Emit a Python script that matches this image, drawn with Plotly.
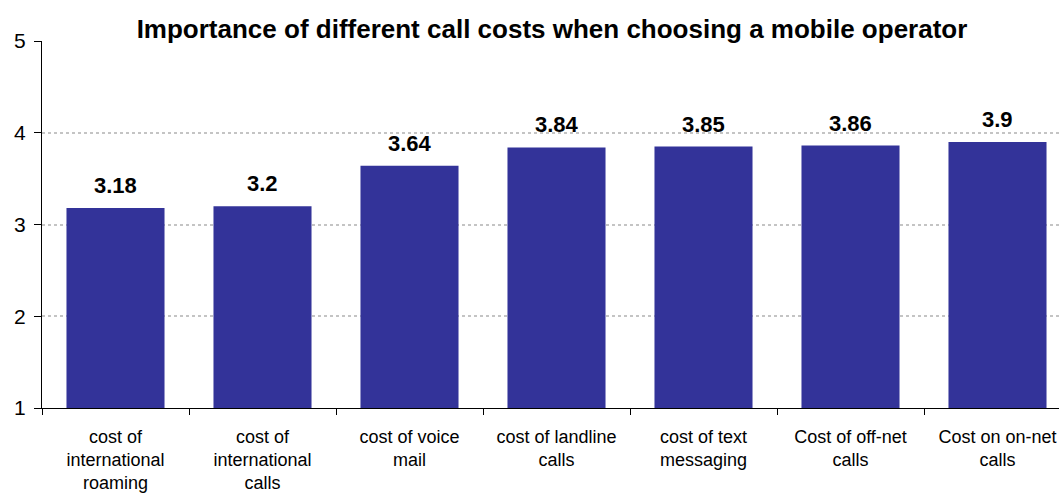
import plotly.graph_objects as go

categories = ["cost of<br>international<br>roaming", "cost of<br>international<br>calls",
              "cost of voice<br>mail", "cost of landline<br>calls", "cost of text<br>messaging",
              "Cost of off-net<br>calls", "Cost on on-net<br>calls"]
values = [3.18, 3.2, 3.64, 3.84, 3.85, 3.86, 3.9]
labels = ["3.18", "3.2", "3.64", "3.84", "3.85", "3.86", "3.9"]

font = "Liberation Sans, Arial, sans-serif"

fig = go.Figure(go.Bar(
    x=categories, y=[v - 1 for v in values], base=1,
    marker=dict(color="#333399", line=dict(width=0)),
    width=0.667, hoverinfo="skip",
))

for c, v, t in zip(categories, values, labels):
    fig.add_annotation(x=c, y=v, text="<b>%s</b>" % t, showarrow=False, yanchor="bottom",
                       yshift=8, font=dict(family=font, size=22, color="black"))

fig.update_layout(
    width=1059, height=494,
    margin=dict(l=42, r=0, t=41, b=86),
    paper_bgcolor="white", plot_bgcolor="white",
    showlegend=False,
    title=dict(text="<b>Importance of different call costs when choosing a mobile operator</b>",
               x=552/1059, xanchor="center", y=1 - 29/494, yanchor="middle",
               font=dict(family=font, size=26, color="black")),
    font=dict(family=font, color="black"),
)
fig.update_xaxes(
    range=[-0.5, -0.5 + (1059 - 42) / 147.0],
    showline=True, linecolor="black", linewidth=1,
    ticks="outside", ticklen=6, tickcolor="black", tickson="boundaries",
    tickfont=dict(family=font, size=18, color="black"),
    ticklabelstandoff=12,
    showgrid=False,
)
fig.update_yaxes(
    range=[1, 5], tickvals=[1, 2, 3, 4, 5],
    showline=True, linecolor="black", linewidth=1,
    ticks="outside", ticklen=7, tickcolor="black",
    tickfont=dict(family=font, size=21, color="black"),
    ticklabelstandoff=4,
    showgrid=True, gridcolor="#c4c4c4", griddash="3px,3px", gridwidth=2,
    zeroline=False,
)
fig.write_html("out.html")
